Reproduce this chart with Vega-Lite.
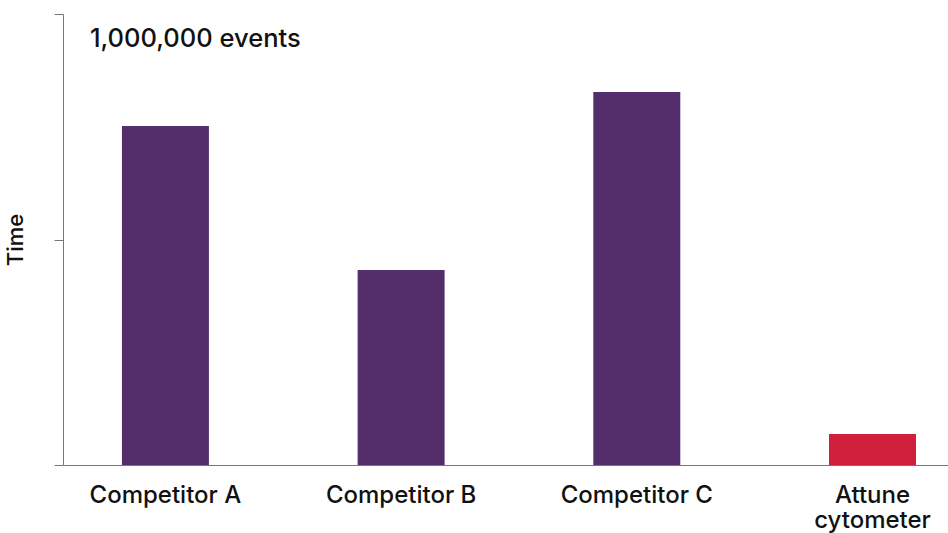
{
  "$schema": "https://vega.github.io/schema/vega-lite/v6.json",
  "autosize": "none",
  "width": 885,
  "height": 451,
  "padding": {"left": 63, "top": 14, "right": 0, "bottom": 68},
  "background": "white",
  "datasets": {
    "bars": [
      {"instrument": "Competitor A", "time": 1.503, "group": "competitor"},
      {"instrument": "Competitor B", "time": 0.865, "group": "competitor"},
      {"instrument": "Competitor C", "time": 1.654, "group": "competitor"},
      {"instrument": "Attune cytometer", "time": 0.137, "group": "attune"}
    ],
    "note": [
      {"instrument": "Competitor A", "time": 2, "label": "1,000,000 events"}
    ]
  },
  "encoding": {
    "x": {
      "field": "instrument",
      "type": "nominal",
      "sort": ["Competitor A", "Competitor B", "Competitor C", "Attune cytometer"],
      "scale": {"domain": ["Competitor A", "Competitor B", "Competitor C", "Attune cytometer"], "paddingInner": 0.631, "paddingOuter": 0.193, "align": 0.648},
      "axis": {
        "title": null,
        "labelAngle": 0,
        "ticks": false,
        "domainColor": "#777777",
        "domainWidth": 1,
        "labelPadding": 18,
        "labelFont": "Inter",
        "labelFontSize": 24,
        "labelFontWeight": 500,
        "labelColor": "#111111",
        "labelLineHeight": 25,
        "labelBaseline": "top",
        "labelExpr": "datum.value == 'Attune cytometer' ? ['Attune', 'cytometer'] : datum.value"
      }
    },
    "y": {
      "field": "time",
      "type": "quantitative",
      "scale": {"domain": [0, 2], "nice": false},
      "axis": {
        "title": "Time",
        "values": [0, 1, 2],
        "labels": false,
        "grid": false,
        "tickSize": 9,
        "tickColor": "#777777",
        "domainColor": "#777777",
        "titleFont": "Inter",
        "titleFontSize": 22,
        "titleFontWeight": 500,
        "titleColor": "#111111",
        "titlePadding": 26
      }
    }
  },
  "layer": [
    {
      "data": {"name": "bars"},
      "mark": {"type": "bar"},
      "encoding": {
        "color": {
          "field": "group",
          "type": "nominal",
          "scale": {"domain": ["competitor", "attune"], "range": ["#532E6B", "#D01F3C"]},
          "legend": null
        }
      }
    },
    {
      "data": {"name": "note"},
      "mark": {
        "type": "text",
        "align": "left",
        "baseline": "alphabetic",
        "xOffset": -75.5,
        "yOffset": 33,
        "font": "Inter",
        "fontSize": 25.5,
        "fontWeight": 500,
        "color": "#111111"
      },
      "encoding": {
        "text": {"field": "label"}
      }
    }
  ],
  "config": {"view": {"stroke": null}}
}
